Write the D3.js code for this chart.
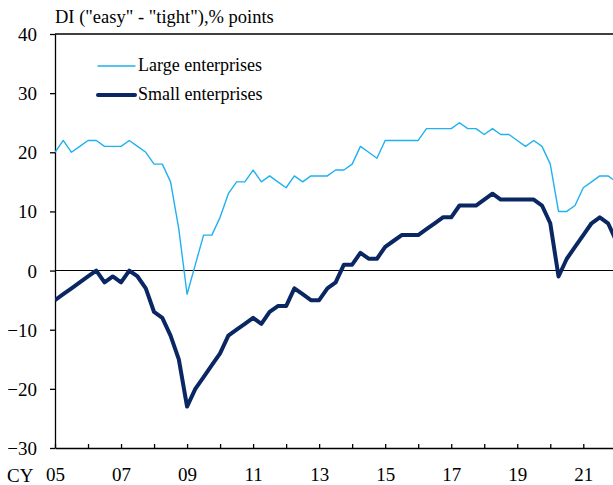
<!DOCTYPE html>
<html>
<head>
<meta charset="utf-8">
<script src="https://cdn.jsdelivr.net/npm/d3@7"></script>
<style>
  body { margin: 0; background: #fff; }
  svg text { font-family: "Liberation Serif", serif; fill: #000; }
  .axis path, .axis line { stroke: #000; stroke-width: 1.3; }
  .axis text { font-size: 19px; }
</style>
</head>
<body>
<script>
// Quarterly DI, CY2005 Q1 onwards
const startYear = 2005;
const large = [20, 22, 20, 21, 22, 22, 21, 21, 21, 22, 21, 20, 18, 18, 15, 7,
  -4, 1, 6, 6, 9, 13, 15, 15, 17, 15, 16, 15, 14, 16, 15, 16,
  16, 16, 17, 17, 18, 21, 20, 19, 22, 22, 22, 22, 22, 24, 24, 24,
  24, 25, 24, 24, 23, 24, 23, 23, 22, 21, 22, 21, 18, 10, 10, 11,
  14, 15, 16, 16, 15];
const small = [-5, -4, -3, -2, -1, 0, -2, -1, -2, 0, -1, -3, -7, -8, -11, -15,
  -23, -20, -18, -16, -14, -11, -10, -9, -8, -9, -7, -6, -6, -3, -4, -5,
  -5, -3, -2, 1, 1, 3, 2, 2, 4, 5, 6, 6, 6, 7, 8, 9,
  9, 11, 11, 11, 12, 13, 12, 12, 12, 12, 12, 11, 8, -1, 2, 4,
  6, 8, 9, 8, 5];
const yTicks = [-30, -20, -10, 0, 10, 20, 30, 40];
const xTickYears = d3.range(2005, 2022);
const seriesNames = ["Large enterprises", "Small enterprises"];

const W = 613, H = 485;
const margin = { left: 55, top: 34, bottom: 448 };

const svg = d3.select("body").append("svg")
  .attr("width", W)
  .attr("height", H)
  .attr("font-family", "Liberation Serif");

const x = d3.scaleLinear().domain([2005, 2021.9]).range([margin.left, W]);
const y = d3.scaleLinear().domain([-30, 40]).range([margin.bottom, margin.top]);

const qx = i => x(startYear + i / 4);

svg.append("defs").append("clipPath").attr("id", "plot")
  .append("rect")
  .attr("x", margin.left).attr("y", 0)
  .attr("width", W - margin.left).attr("height", H);

// top border and zero line
svg.append("line")
  .attr("x1", margin.left).attr("x2", W)
  .attr("y1", y(40)).attr("y2", y(40))
  .attr("stroke", "#000").attr("stroke-width", 1.3);
svg.append("line")
  .attr("x1", margin.left).attr("x2", W)
  .attr("y1", y(0)).attr("y2", y(0))
  .attr("stroke", "#000").attr("stroke-width", 1.1);

// y axis
svg.append("g")
  .attr("class", "axis")
  .attr("transform", `translate(${margin.left},0)`)
  .call(d3.axisLeft(y).tickValues(yTicks).tickSize(5).tickSizeOuter(0).tickPadding(13))
  .call(g => g.attr("font-family", null).attr("font-size", null))
  .call(g => g.selectAll("text").attr("dy", "0.34em"));

// x axis
svg.append("g")
  .attr("class", "axis")
  .attr("transform", `translate(0,${y(-30)})`)
  .call(d3.axisBottom(x).tickValues(xTickYears).tickSizeInner(-4).tickSizeOuter(0).tickPadding(20)
    .tickFormat(d => (d - 2005) % 2 === 0 ? String(d).slice(2) : ""))
  .call(g => g.attr("font-family", null).attr("font-size", null))
  .call(g => g.selectAll("text").attr("dy", "0.71em"));

svg.append("text")
  .attr("x", 7).attr("y", 482)
  .style("font-size", "19px")
  .text("CY");

// title
svg.append("text")
  .attr("x", 55).attr("y", 23)
  .style("font-size", "18.5px")
  .text('DI ("easy" - "tight"),% points');

const line = d3.line().x((d, i) => qx(i)).y(d => y(d));

const plot = svg.append("g").attr("clip-path", "url(#plot)");

plot.append("path")
  .datum(large)
  .attr("d", line)
  .attr("fill", "none")
  .attr("stroke", "#1fb1f0")
  .attr("stroke-width", 1.4)
  .attr("stroke-linejoin", "round");

plot.append("path")
  .datum(small)
  .attr("d", line)
  .attr("fill", "none")
  .attr("stroke", "#0a2763")
  .attr("stroke-width", 4)
  .attr("stroke-linejoin", "round");

// legend
const legend = svg.append("g");
const legendY = [66, 95];
const legendStyle = [
  { color: "#1fb1f0", width: 1.4 },
  { color: "#0a2763", width: 4 }
];
seriesNames.forEach((name, i) => {
  legend.append("line")
    .attr("x1", 98).attr("x2", 135)
    .attr("y1", legendY[i]).attr("y2", legendY[i])
    .attr("stroke", legendStyle[i].color)
    .attr("stroke-width", legendStyle[i].width)
    .attr("stroke-linecap", "round");
  legend.append("text")
    .attr("x", 138).attr("y", legendY[i] + 5)
    .style("font-size", "18px")
    .text(name);
});
</script>
</body>
</html>
